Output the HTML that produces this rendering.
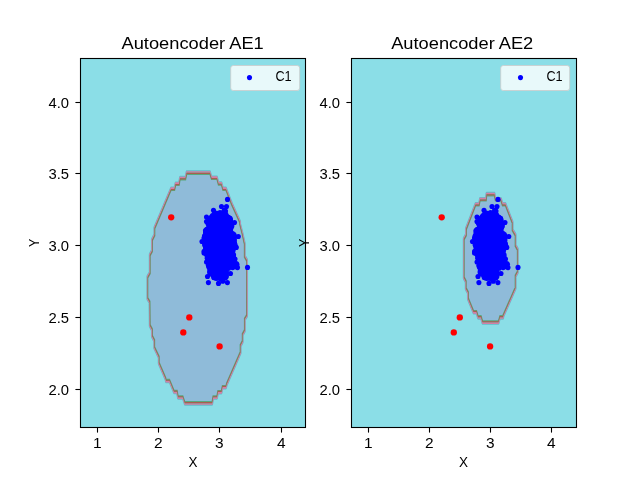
<!DOCTYPE html>
<html><head><meta charset="utf-8"><title>Autoencoder AE1 / AE2</title>
<style>
html,body{margin:0;padding:0;background:#fff;}
body{width:640px;height:480px;overflow:hidden;font-family:"Liberation Sans",sans-serif;}
svg{display:block;will-change:transform;font-family:"Liberation Sans",sans-serif;}
</style></head><body>
<svg width="640" height="480" viewBox="0 0 640 480">
<rect width="640" height="480" fill="#fff"/>
<rect x="80.5" y="58.5" width="225" height="369" fill="#8bdee7"/><g transform="scale(1,2.35)">
<clipPath id="c1"><path d="M186.60,73.532 L210.00,73.532 L211.50,75.745 L217.00,75.745 L218.50,78.170 L221.50,78.170 L223.00,80.426 L226.00,80.426 L231.80,86.809 L240.00,94.468 L240.00,95.319 L242.50,99.574 L244.70,103.830 L244.70,109.149 L247.00,110.851 L247.00,134.255 L244.80,135.745 L244.80,140.638 L242.60,142.340 L242.60,145.319 L240.50,147.021 L240.50,150.000 L226.80,163.404 L226.00,164.681 L222.50,164.681 L221.50,166.809 L218.00,166.809 L217.00,169.064 L213.20,169.064 L212.20,171.574 L184.80,171.574 L182.80,169.064 L178.00,169.064 L177.00,166.723 L174.00,166.723 L173.50,166.170 L169.50,162.043 L166.00,162.043 L165.50,161.064 L158.80,154.468 L158.80,151.915 L154.30,147.872 L154.30,144.894 L152.00,142.979 L152.00,140.213 L149.80,138.511 L149.60,128.511 L147.50,127.021 L147.50,117.872 L149.80,116.170 L149.80,108.511 L152.00,106.809 L152.00,102.128 L154.50,100.000 L154.50,97.021 L161.30,90.213 L171.00,80.426 L174.50,80.426 L175.50,78.298 L179.00,78.298 L180.00,75.872 L185.50,75.872Z"/></clipPath>
<path d="M186.60,73.532 L210.00,73.532 L211.50,75.745 L217.00,75.745 L218.50,78.170 L221.50,78.170 L223.00,80.426 L226.00,80.426 L231.80,86.809 L240.00,94.468 L240.00,95.319 L242.50,99.574 L244.70,103.830 L244.70,109.149 L247.00,110.851 L247.00,134.255 L244.80,135.745 L244.80,140.638 L242.60,142.340 L242.60,145.319 L240.50,147.021 L240.50,150.000 L226.80,163.404 L226.00,164.681 L222.50,164.681 L221.50,166.809 L218.00,166.809 L217.00,169.064 L213.20,169.064 L212.20,171.574 L184.80,171.574 L182.80,169.064 L178.00,169.064 L177.00,166.723 L174.00,166.723 L173.50,166.170 L169.50,162.043 L166.00,162.043 L165.50,161.064 L158.80,154.468 L158.80,151.915 L154.30,147.872 L154.30,144.894 L152.00,142.979 L152.00,140.213 L149.80,138.511 L149.60,128.511 L147.50,127.021 L147.50,117.872 L149.80,116.170 L149.80,108.511 L152.00,106.809 L152.00,102.128 L154.50,100.000 L154.50,97.021 L161.30,90.213 L171.00,80.426 L174.50,80.426 L175.50,78.298 L179.00,78.298 L180.00,75.872 L185.50,75.872Z" fill="none" stroke="#62bcc8" stroke-width="2.1" stroke-linejoin="round"/>
<path d="M186.60,73.532 L210.00,73.532 L211.50,75.745 L217.00,75.745 L218.50,78.170 L221.50,78.170 L223.00,80.426 L226.00,80.426 L231.80,86.809 L240.00,94.468 L240.00,95.319 L242.50,99.574 L244.70,103.830 L244.70,109.149 L247.00,110.851 L247.00,134.255 L244.80,135.745 L244.80,140.638 L242.60,142.340 L242.60,145.319 L240.50,147.021 L240.50,150.000 L226.80,163.404 L226.00,164.681 L222.50,164.681 L221.50,166.809 L218.00,166.809 L217.00,169.064 L213.20,169.064 L212.20,171.574 L184.80,171.574 L182.80,169.064 L178.00,169.064 L177.00,166.723 L174.00,166.723 L173.50,166.170 L169.50,162.043 L166.00,162.043 L165.50,161.064 L158.80,154.468 L158.80,151.915 L154.30,147.872 L154.30,144.894 L152.00,142.979 L152.00,140.213 L149.80,138.511 L149.60,128.511 L147.50,127.021 L147.50,117.872 L149.80,116.170 L149.80,108.511 L152.00,106.809 L152.00,102.128 L154.50,100.000 L154.50,97.021 L161.30,90.213 L171.00,80.426 L174.50,80.426 L175.50,78.298 L179.00,78.298 L180.00,75.872 L185.50,75.872Z" fill="none" stroke="#d47fa6" stroke-width="1.4" stroke-linejoin="round"/>
<path d="M186.60,73.532 L210.00,73.532 L211.50,75.745 L217.00,75.745 L218.50,78.170 L221.50,78.170 L223.00,80.426 L226.00,80.426 L231.80,86.809 L240.00,94.468 L240.00,95.319 L242.50,99.574 L244.70,103.830 L244.70,109.149 L247.00,110.851 L247.00,134.255 L244.80,135.745 L244.80,140.638 L242.60,142.340 L242.60,145.319 L240.50,147.021 L240.50,150.000 L226.80,163.404 L226.00,164.681 L222.50,164.681 L221.50,166.809 L218.00,166.809 L217.00,169.064 L213.20,169.064 L212.20,171.574 L184.80,171.574 L182.80,169.064 L178.00,169.064 L177.00,166.723 L174.00,166.723 L173.50,166.170 L169.50,162.043 L166.00,162.043 L165.50,161.064 L158.80,154.468 L158.80,151.915 L154.30,147.872 L154.30,144.894 L152.00,142.979 L152.00,140.213 L149.80,138.511 L149.60,128.511 L147.50,127.021 L147.50,117.872 L149.80,116.170 L149.80,108.511 L152.00,106.809 L152.00,102.128 L154.50,100.000 L154.50,97.021 L161.30,90.213 L171.00,80.426 L174.50,80.426 L175.50,78.298 L179.00,78.298 L180.00,75.872 L185.50,75.872Z" fill="#8fbbd9"/>
<g clip-path="url(#c1)"><path d="M186.60,73.532 L210.00,73.532 L211.50,75.745 L217.00,75.745 L218.50,78.170 L221.50,78.170 L223.00,80.426 L226.00,80.426 L231.80,86.809 L240.00,94.468 L240.00,95.319 L242.50,99.574 L244.70,103.830 L244.70,109.149 L247.00,110.851 L247.00,134.255 L244.80,135.745 L244.80,140.638 L242.60,142.340 L242.60,145.319 L240.50,147.021 L240.50,150.000 L226.80,163.404 L226.00,164.681 L222.50,164.681 L221.50,166.809 L218.00,166.809 L217.00,169.064 L213.20,169.064 L212.20,171.574 L184.80,171.574 L182.80,169.064 L178.00,169.064 L177.00,166.723 L174.00,166.723 L173.50,166.170 L169.50,162.043 L166.00,162.043 L165.50,161.064 L158.80,154.468 L158.80,151.915 L154.30,147.872 L154.30,144.894 L152.00,142.979 L152.00,140.213 L149.80,138.511 L149.60,128.511 L147.50,127.021 L147.50,117.872 L149.80,116.170 L149.80,108.511 L152.00,106.809 L152.00,102.128 L154.50,100.000 L154.50,97.021 L161.30,90.213 L171.00,80.426 L174.50,80.426 L175.50,78.298 L179.00,78.298 L180.00,75.872 L185.50,75.872Z" fill="none" stroke="#58a87c" stroke-width="1.8"/>
<path d="M186.60,73.532 L210.00,73.532 L211.50,75.745 L217.00,75.745 L218.50,78.170 L221.50,78.170 L223.00,80.426 L226.00,80.426 L231.80,86.809 L240.00,94.468 L240.00,95.319 L242.50,99.574 L244.70,103.830 L244.70,109.149 L247.00,110.851 L247.00,134.255 L244.80,135.745 L244.80,140.638 L242.60,142.340 L242.60,145.319 L240.50,147.021 L240.50,150.000 L226.80,163.404 L226.00,164.681 L222.50,164.681 L221.50,166.809 L218.00,166.809 L217.00,169.064 L213.20,169.064 L212.20,171.574 L184.80,171.574 L182.80,169.064 L178.00,169.064 L177.00,166.723 L174.00,166.723 L173.50,166.170 L169.50,162.043 L166.00,162.043 L165.50,161.064 L158.80,154.468 L158.80,151.915 L154.30,147.872 L154.30,144.894 L152.00,142.979 L152.00,140.213 L149.80,138.511 L149.60,128.511 L147.50,127.021 L147.50,117.872 L149.80,116.170 L149.80,108.511 L152.00,106.809 L152.00,102.128 L154.50,100.000 L154.50,97.021 L161.30,90.213 L171.00,80.426 L174.50,80.426 L175.50,78.298 L179.00,78.298 L180.00,75.872 L185.50,75.872Z" fill="none" stroke="#a85f50" stroke-width="1.0"/></g>
</g><g fill="#ff0000"><circle cx="171.2" cy="217.3" r="3.15"/><circle cx="189.3" cy="317.4" r="3.15"/><circle cx="183.3" cy="332.4" r="3.15"/><circle cx="219.6" cy="346.4" r="3.15"/></g><g fill="#0000ff"><circle cx="208.0" cy="232.0" r="5"/><circle cx="208.0" cy="236.0" r="5"/><circle cx="208.0" cy="240.0" r="5"/><circle cx="208.0" cy="244.0" r="5"/><circle cx="208.0" cy="248.0" r="5"/><circle cx="208.0" cy="252.0" r="5"/><circle cx="212.0" cy="220.0" r="5"/><circle cx="212.0" cy="224.0" r="5"/><circle cx="212.0" cy="228.0" r="5"/><circle cx="212.0" cy="232.0" r="5"/><circle cx="212.0" cy="236.0" r="5"/><circle cx="212.0" cy="240.0" r="5"/><circle cx="212.0" cy="244.0" r="5"/><circle cx="212.0" cy="248.0" r="5"/><circle cx="212.0" cy="252.0" r="5"/><circle cx="212.0" cy="256.0" r="5"/><circle cx="212.0" cy="260.0" r="5"/><circle cx="212.0" cy="264.0" r="5"/><circle cx="212.0" cy="268.0" r="5"/><circle cx="212.0" cy="272.0" r="5"/><circle cx="216.0" cy="216.0" r="5"/><circle cx="216.0" cy="220.0" r="5"/><circle cx="216.0" cy="224.0" r="5"/><circle cx="216.0" cy="228.0" r="5"/><circle cx="216.0" cy="232.0" r="5"/><circle cx="216.0" cy="236.0" r="5"/><circle cx="216.0" cy="240.0" r="5"/><circle cx="216.0" cy="244.0" r="5"/><circle cx="216.0" cy="248.0" r="5"/><circle cx="216.0" cy="252.0" r="5"/><circle cx="216.0" cy="256.0" r="5"/><circle cx="216.0" cy="260.0" r="5"/><circle cx="216.0" cy="264.0" r="5"/><circle cx="216.0" cy="268.0" r="5"/><circle cx="216.0" cy="272.0" r="5"/><circle cx="216.0" cy="276.0" r="5"/><circle cx="220.0" cy="216.0" r="5"/><circle cx="220.0" cy="220.0" r="5"/><circle cx="220.0" cy="224.0" r="5"/><circle cx="220.0" cy="228.0" r="5"/><circle cx="220.0" cy="232.0" r="5"/><circle cx="220.0" cy="236.0" r="5"/><circle cx="220.0" cy="240.0" r="5"/><circle cx="220.0" cy="244.0" r="5"/><circle cx="220.0" cy="248.0" r="5"/><circle cx="220.0" cy="252.0" r="5"/><circle cx="220.0" cy="256.0" r="5"/><circle cx="220.0" cy="260.0" r="5"/><circle cx="220.0" cy="264.0" r="5"/><circle cx="220.0" cy="268.0" r="5"/><circle cx="220.0" cy="272.0" r="5"/><circle cx="220.0" cy="276.0" r="5"/><circle cx="224.0" cy="216.0" r="5"/><circle cx="224.0" cy="220.0" r="5"/><circle cx="224.0" cy="224.0" r="5"/><circle cx="224.0" cy="228.0" r="5"/><circle cx="224.0" cy="232.0" r="5"/><circle cx="224.0" cy="236.0" r="5"/><circle cx="224.0" cy="240.0" r="5"/><circle cx="224.0" cy="244.0" r="5"/><circle cx="224.0" cy="248.0" r="5"/><circle cx="224.0" cy="252.0" r="5"/><circle cx="224.0" cy="256.0" r="5"/><circle cx="224.0" cy="260.0" r="5"/><circle cx="224.0" cy="264.0" r="5"/><circle cx="224.0" cy="268.0" r="5"/><circle cx="224.0" cy="272.0" r="5"/><circle cx="224.0" cy="276.0" r="5"/><circle cx="228.0" cy="220.0" r="5"/><circle cx="228.0" cy="224.0" r="5"/><circle cx="228.0" cy="228.0" r="5"/><circle cx="228.0" cy="232.0" r="5"/><circle cx="228.0" cy="236.0" r="5"/><circle cx="228.0" cy="240.0" r="5"/><circle cx="228.0" cy="244.0" r="5"/><circle cx="228.0" cy="248.0" r="5"/><circle cx="228.0" cy="252.0" r="5"/><circle cx="228.0" cy="256.0" r="5"/><circle cx="228.0" cy="260.0" r="5"/><circle cx="228.0" cy="264.0" r="5"/><circle cx="232.0" cy="236.0" r="5"/><circle cx="232.0" cy="240.0" r="5"/><circle cx="232.0" cy="244.0" r="5"/><circle cx="232.0" cy="264.0" r="5"/><circle cx="208.3" cy="255.5" r="2.55"/><circle cx="231.4" cy="239.1" r="2.55"/><circle cx="230.8" cy="241.5" r="2.55"/><circle cx="208.3" cy="233.7" r="2.55"/><circle cx="229.4" cy="232.3" r="2.55"/><circle cx="218.6" cy="213.8" r="2.55"/><circle cx="224.7" cy="277.4" r="2.55"/><circle cx="208.1" cy="236.3" r="2.55"/><circle cx="211.0" cy="267.8" r="2.55"/><circle cx="233.3" cy="249.4" r="2.55"/><circle cx="214.7" cy="212.8" r="2.55"/><circle cx="223.4" cy="216.9" r="2.55"/><circle cx="230.0" cy="229.9" r="2.55"/><circle cx="209.9" cy="258.0" r="2.55"/><circle cx="232.6" cy="244.8" r="2.55"/><circle cx="208.4" cy="255.5" r="2.55"/><circle cx="208.9" cy="225.8" r="2.55"/><circle cx="207.2" cy="256.2" r="2.55"/><circle cx="224.4" cy="217.7" r="2.55"/><circle cx="215.9" cy="213.7" r="2.55"/><circle cx="225.2" cy="213.9" r="2.55"/><circle cx="210.8" cy="260.9" r="2.55"/><circle cx="209.9" cy="224.8" r="2.55"/><circle cx="227.8" cy="229.3" r="2.55"/><circle cx="210.4" cy="260.3" r="2.55"/><circle cx="233.4" cy="237.7" r="2.55"/><circle cx="213.9" cy="274.2" r="2.55"/><circle cx="213.9" cy="218.7" r="2.55"/><circle cx="233.9" cy="258.7" r="2.55"/><circle cx="228.5" cy="230.8" r="2.55"/><circle cx="229.9" cy="229.1" r="2.55"/><circle cx="221.3" cy="278.5" r="2.55"/><circle cx="233.6" cy="254.8" r="2.55"/><circle cx="209.2" cy="264.5" r="2.55"/><circle cx="234.7" cy="243.7" r="2.55"/><circle cx="231.9" cy="259.2" r="2.55"/><circle cx="204.9" cy="241.3" r="2.55"/><circle cx="231.1" cy="242.7" r="2.55"/><circle cx="235.2" cy="245.5" r="2.55"/><circle cx="229.6" cy="264.8" r="2.55"/><circle cx="230.8" cy="231.9" r="2.55"/><circle cx="219.3" cy="215.4" r="2.55"/><circle cx="231.9" cy="234.5" r="2.55"/><circle cx="207.7" cy="231.0" r="2.55"/><circle cx="204.5" cy="236.0" r="2.55"/><circle cx="231.3" cy="246.2" r="2.55"/><circle cx="226.1" cy="267.5" r="2.55"/><circle cx="224.5" cy="277.0" r="2.55"/><circle cx="228.6" cy="268.2" r="2.55"/><circle cx="234.5" cy="243.4" r="2.55"/><circle cx="207.1" cy="234.1" r="2.55"/><circle cx="207.2" cy="258.2" r="2.55"/><circle cx="228.8" cy="252.7" r="2.55"/><circle cx="209.6" cy="257.7" r="2.55"/><circle cx="207.2" cy="234.0" r="2.55"/><circle cx="228.8" cy="230.7" r="2.55"/><circle cx="232.8" cy="251.7" r="2.55"/><circle cx="215.6" cy="275.5" r="2.55"/><circle cx="229.9" cy="229.9" r="2.55"/><circle cx="214.7" cy="215.8" r="2.55"/><circle cx="234.8" cy="266.8" r="2.55"/><circle cx="224.8" cy="272.7" r="2.55"/><circle cx="208.7" cy="266.7" r="2.55"/><circle cx="209.5" cy="254.6" r="2.55"/><circle cx="208.1" cy="233.8" r="2.55"/><circle cx="231.9" cy="259.1" r="2.55"/><circle cx="205.4" cy="253.6" r="2.55"/><circle cx="210.1" cy="262.3" r="2.55"/><circle cx="208.4" cy="265.2" r="2.55"/><circle cx="230.9" cy="260.0" r="2.55"/><circle cx="212.8" cy="219.2" r="2.55"/><circle cx="211.7" cy="216.7" r="2.55"/><circle cx="207.9" cy="223.6" r="2.55"/><circle cx="231.0" cy="240.3" r="2.55"/><circle cx="226.2" cy="269.3" r="2.55"/><circle cx="206.7" cy="229.4" r="2.55"/><circle cx="229.1" cy="252.5" r="2.55"/><circle cx="217.1" cy="277.7" r="2.55"/><circle cx="208.4" cy="255.0" r="2.55"/><circle cx="210.4" cy="260.5" r="2.55"/><circle cx="204.5" cy="238.2" r="2.55"/><circle cx="209.8" cy="227.0" r="2.55"/><circle cx="209.3" cy="261.8" r="2.55"/><circle cx="230.5" cy="236.2" r="2.55"/><circle cx="206.6" cy="237.0" r="2.55"/><circle cx="227.5" cy="226.7" r="2.55"/><circle cx="210.2" cy="263.0" r="2.55"/><circle cx="209.5" cy="226.3" r="2.55"/><circle cx="236.4" cy="263.6" r="2.55"/><circle cx="209.2" cy="257.5" r="2.55"/><circle cx="204.6" cy="244.7" r="2.55"/><circle cx="231.9" cy="226.1" r="2.55"/><circle cx="232.0" cy="248.7" r="2.55"/><circle cx="232.2" cy="236.1" r="2.55"/><circle cx="230.2" cy="219.6" r="2.55"/><circle cx="226.2" cy="266.7" r="2.55"/><circle cx="230.4" cy="265.7" r="2.55"/><circle cx="206.0" cy="245.8" r="2.55"/><circle cx="231.0" cy="253.9" r="2.55"/><circle cx="235.2" cy="266.0" r="2.55"/><circle cx="229.6" cy="254.1" r="2.55"/><circle cx="205.9" cy="236.0" r="2.55"/><circle cx="213.8" cy="277.4" r="2.55"/><circle cx="206.4" cy="234.6" r="2.55"/><circle cx="228.8" cy="265.4" r="2.55"/><circle cx="213.0" cy="218.2" r="2.55"/><circle cx="230.4" cy="256.0" r="2.55"/><circle cx="229.1" cy="250.6" r="2.55"/><circle cx="231.1" cy="227.8" r="2.55"/><circle cx="227.5" cy="225.4" r="2.55"/><circle cx="212.0" cy="220.2" r="2.55"/><circle cx="233.5" cy="256.7" r="2.55"/><circle cx="221.3" cy="279.1" r="2.55"/><circle cx="231.1" cy="266.6" r="2.55"/><circle cx="233.2" cy="236.4" r="2.55"/><circle cx="228.9" cy="221.3" r="2.55"/><circle cx="203.8" cy="241.8" r="2.55"/><circle cx="230.4" cy="221.0" r="2.55"/><circle cx="224.3" cy="210.4" r="2.55"/><circle cx="230.4" cy="248.2" r="2.55"/><circle cx="233.7" cy="238.3" r="2.55"/><circle cx="211.7" cy="272.3" r="2.55"/><circle cx="217.5" cy="277.8" r="2.55"/><circle cx="224.1" cy="210.8" r="2.55"/><circle cx="225.1" cy="276.4" r="2.55"/><circle cx="230.9" cy="235.6" r="2.55"/><circle cx="205.4" cy="246.5" r="2.55"/><circle cx="205.3" cy="234.8" r="2.55"/><circle cx="233.5" cy="241.9" r="2.55"/><circle cx="209.0" cy="226.9" r="2.55"/><circle cx="205.9" cy="232.3" r="2.55"/><circle cx="213.7" cy="216.1" r="2.55"/><circle cx="231.8" cy="252.0" r="2.55"/><circle cx="210.2" cy="221.1" r="2.55"/><circle cx="204.1" cy="251.3" r="2.55"/><circle cx="229.1" cy="252.2" r="2.55"/><circle cx="231.4" cy="238.4" r="2.55"/><circle cx="209.0" cy="262.9" r="2.55"/><circle cx="210.0" cy="266.4" r="2.55"/><circle cx="217.1" cy="213.2" r="2.55"/><circle cx="224.2" cy="274.4" r="2.55"/><circle cx="227.5" cy="199.4" r="2.55"/><circle cx="221.5" cy="206.5" r="2.55"/><circle cx="226.5" cy="206.5" r="2.55"/><circle cx="213.5" cy="210.3" r="2.55"/><circle cx="225.5" cy="211.0" r="2.55"/><circle cx="220.0" cy="212.5" r="2.55"/><circle cx="206.5" cy="217.0" r="2.55"/><circle cx="206.5" cy="221.5" r="2.55"/><circle cx="212.5" cy="215.5" r="2.55"/><circle cx="228.0" cy="217.0" r="2.55"/><circle cx="230.0" cy="218.3" r="2.55"/><circle cx="234.5" cy="222.5" r="2.55"/><circle cx="238.3" cy="236.5" r="2.55"/><circle cx="205.5" cy="230.5" r="2.55"/><circle cx="204.0" cy="238.0" r="2.55"/><circle cx="202.0" cy="241.5" r="2.55"/><circle cx="236.3" cy="247.4" r="2.55"/><circle cx="204.0" cy="253.0" r="2.55"/><circle cx="235.0" cy="259.0" r="2.55"/><circle cx="237.0" cy="264.5" r="2.55"/><circle cx="237.5" cy="267.6" r="2.55"/><circle cx="232.6" cy="267.6" r="2.55"/><circle cx="230.5" cy="273.5" r="2.55"/><circle cx="206.5" cy="262.0" r="2.55"/><circle cx="207.5" cy="276.5" r="2.55"/><circle cx="208.4" cy="282.6" r="2.55"/><circle cx="218.5" cy="283.4" r="2.55"/><circle cx="227.4" cy="282.6" r="2.55"/><circle cx="222.8" cy="281.3" r="2.55"/><circle cx="247.5" cy="267.4" r="2.55"/></g><g stroke="#000" stroke-width="1.1"><line x1="97.5" y1="427.5" x2="97.5" y2="432.6"/><line x1="158.5" y1="427.5" x2="158.5" y2="432.6"/><line x1="219.5" y1="427.5" x2="219.5" y2="432.6"/><line x1="281.5" y1="427.5" x2="281.5" y2="432.6"/><line x1="75.4" y1="102.5" x2="80.5" y2="102.5"/><line x1="75.4" y1="173.5" x2="80.5" y2="173.5"/><line x1="75.4" y1="245.5" x2="80.5" y2="245.5"/><line x1="75.4" y1="317.5" x2="80.5" y2="317.5"/><line x1="75.4" y1="389.5" x2="80.5" y2="389.5"/></g><rect x="80.5" y="58.5" width="225" height="369" fill="none" stroke="#000" stroke-width="1.1"/><g font-size="14.6" fill="#000"><text x="97.2" y="448" text-anchor="middle" textLength="8.6" lengthAdjust="spacingAndGlyphs">1</text><text x="158.2" y="448" text-anchor="middle" textLength="8.6" lengthAdjust="spacingAndGlyphs">2</text><text x="219.2" y="448" text-anchor="middle" textLength="8.6" lengthAdjust="spacingAndGlyphs">3</text><text x="281.2" y="448" text-anchor="middle" textLength="8.6" lengthAdjust="spacingAndGlyphs">4</text><text x="69.1" y="107.8" text-anchor="end" textLength="20.6" lengthAdjust="spacingAndGlyphs">4.0</text><text x="69.1" y="178.8" text-anchor="end" textLength="20.6" lengthAdjust="spacingAndGlyphs">3.5</text><text x="69.1" y="250.8" text-anchor="end" textLength="20.6" lengthAdjust="spacingAndGlyphs">3.0</text><text x="69.1" y="322.8" text-anchor="end" textLength="20.6" lengthAdjust="spacingAndGlyphs">2.5</text><text x="69.1" y="394.8" text-anchor="end" textLength="20.6" lengthAdjust="spacingAndGlyphs">2.0</text></g><text x="121.5" y="48.6" font-size="17.1" textLength="142.3" lengthAdjust="spacingAndGlyphs">Autoencoder AE1</text><text x="193" y="467.1" font-size="14.6" text-anchor="middle" textLength="9" lengthAdjust="spacingAndGlyphs">X</text><rect x="230.7" y="65.5" width="69" height="25" rx="2.6" fill="#ffffff" fill-opacity="0.8" stroke="#cccccc" stroke-opacity="0.8" stroke-width="1"/><circle cx="249.5" cy="77.6" r="2.55" fill="#0000ff"/><text x="275.4" y="81" font-size="14.6" textLength="16.2" lengthAdjust="spacingAndGlyphs">C1</text><rect x="351.5" y="58.5" width="225" height="369" fill="#8bdee7"/><g transform="scale(1,2.35)">
<clipPath id="c2"><path d="M486.50,82.681 L494.50,82.681 L495.50,84.894 L501.00,84.894 L502.50,87.021 L505.50,87.021 L512.50,94.681 L512.50,97.872 L515.50,100.000 L515.50,104.468 L517.70,106.170 L517.70,115.745 L515.50,117.447 L515.50,122.553 L503.20,134.468 L503.20,134.979 L500.00,134.979 L498.50,137.149 L482.50,137.149 L481.00,134.979 L478.00,134.979 L476.50,132.766 L473.50,132.766 L468.00,127.021 L468.00,124.468 L465.80,122.766 L465.80,119.787 L463.80,118.085 L463.80,101.702 L466.00,100.000 L466.00,97.447 L469.50,93.617 L475.50,87.021 L479.00,87.021 L480.00,84.894 L486.00,84.894Z"/></clipPath>
<path d="M486.50,82.681 L494.50,82.681 L495.50,84.894 L501.00,84.894 L502.50,87.021 L505.50,87.021 L512.50,94.681 L512.50,97.872 L515.50,100.000 L515.50,104.468 L517.70,106.170 L517.70,115.745 L515.50,117.447 L515.50,122.553 L503.20,134.468 L503.20,134.979 L500.00,134.979 L498.50,137.149 L482.50,137.149 L481.00,134.979 L478.00,134.979 L476.50,132.766 L473.50,132.766 L468.00,127.021 L468.00,124.468 L465.80,122.766 L465.80,119.787 L463.80,118.085 L463.80,101.702 L466.00,100.000 L466.00,97.447 L469.50,93.617 L475.50,87.021 L479.00,87.021 L480.00,84.894 L486.00,84.894Z" fill="none" stroke="#62bcc8" stroke-width="2.1" stroke-linejoin="round"/>
<path d="M486.50,82.681 L494.50,82.681 L495.50,84.894 L501.00,84.894 L502.50,87.021 L505.50,87.021 L512.50,94.681 L512.50,97.872 L515.50,100.000 L515.50,104.468 L517.70,106.170 L517.70,115.745 L515.50,117.447 L515.50,122.553 L503.20,134.468 L503.20,134.979 L500.00,134.979 L498.50,137.149 L482.50,137.149 L481.00,134.979 L478.00,134.979 L476.50,132.766 L473.50,132.766 L468.00,127.021 L468.00,124.468 L465.80,122.766 L465.80,119.787 L463.80,118.085 L463.80,101.702 L466.00,100.000 L466.00,97.447 L469.50,93.617 L475.50,87.021 L479.00,87.021 L480.00,84.894 L486.00,84.894Z" fill="none" stroke="#d47fa6" stroke-width="1.4" stroke-linejoin="round"/>
<path d="M486.50,82.681 L494.50,82.681 L495.50,84.894 L501.00,84.894 L502.50,87.021 L505.50,87.021 L512.50,94.681 L512.50,97.872 L515.50,100.000 L515.50,104.468 L517.70,106.170 L517.70,115.745 L515.50,117.447 L515.50,122.553 L503.20,134.468 L503.20,134.979 L500.00,134.979 L498.50,137.149 L482.50,137.149 L481.00,134.979 L478.00,134.979 L476.50,132.766 L473.50,132.766 L468.00,127.021 L468.00,124.468 L465.80,122.766 L465.80,119.787 L463.80,118.085 L463.80,101.702 L466.00,100.000 L466.00,97.447 L469.50,93.617 L475.50,87.021 L479.00,87.021 L480.00,84.894 L486.00,84.894Z" fill="#8fbbd9"/>
<g clip-path="url(#c2)"><path d="M486.50,82.681 L494.50,82.681 L495.50,84.894 L501.00,84.894 L502.50,87.021 L505.50,87.021 L512.50,94.681 L512.50,97.872 L515.50,100.000 L515.50,104.468 L517.70,106.170 L517.70,115.745 L515.50,117.447 L515.50,122.553 L503.20,134.468 L503.20,134.979 L500.00,134.979 L498.50,137.149 L482.50,137.149 L481.00,134.979 L478.00,134.979 L476.50,132.766 L473.50,132.766 L468.00,127.021 L468.00,124.468 L465.80,122.766 L465.80,119.787 L463.80,118.085 L463.80,101.702 L466.00,100.000 L466.00,97.447 L469.50,93.617 L475.50,87.021 L479.00,87.021 L480.00,84.894 L486.00,84.894Z" fill="none" stroke="#58a87c" stroke-width="1.8"/>
<path d="M486.50,82.681 L494.50,82.681 L495.50,84.894 L501.00,84.894 L502.50,87.021 L505.50,87.021 L512.50,94.681 L512.50,97.872 L515.50,100.000 L515.50,104.468 L517.70,106.170 L517.70,115.745 L515.50,117.447 L515.50,122.553 L503.20,134.468 L503.20,134.979 L500.00,134.979 L498.50,137.149 L482.50,137.149 L481.00,134.979 L478.00,134.979 L476.50,132.766 L473.50,132.766 L468.00,127.021 L468.00,124.468 L465.80,122.766 L465.80,119.787 L463.80,118.085 L463.80,101.702 L466.00,100.000 L466.00,97.447 L469.50,93.617 L475.50,87.021 L479.00,87.021 L480.00,84.894 L486.00,84.894Z" fill="none" stroke="#a85f50" stroke-width="1.0"/></g>
</g><g fill="#ff0000"><circle cx="441.7" cy="217.3" r="3.15"/><circle cx="459.8" cy="317.4" r="3.15"/><circle cx="453.8" cy="332.4" r="3.15"/><circle cx="490.1" cy="346.4" r="3.15"/></g><g fill="#0000ff"><circle cx="478.5" cy="232.0" r="5"/><circle cx="478.5" cy="236.0" r="5"/><circle cx="478.5" cy="240.0" r="5"/><circle cx="478.5" cy="244.0" r="5"/><circle cx="478.5" cy="248.0" r="5"/><circle cx="478.5" cy="252.0" r="5"/><circle cx="482.5" cy="220.0" r="5"/><circle cx="482.5" cy="224.0" r="5"/><circle cx="482.5" cy="228.0" r="5"/><circle cx="482.5" cy="232.0" r="5"/><circle cx="482.5" cy="236.0" r="5"/><circle cx="482.5" cy="240.0" r="5"/><circle cx="482.5" cy="244.0" r="5"/><circle cx="482.5" cy="248.0" r="5"/><circle cx="482.5" cy="252.0" r="5"/><circle cx="482.5" cy="256.0" r="5"/><circle cx="482.5" cy="260.0" r="5"/><circle cx="482.5" cy="264.0" r="5"/><circle cx="482.5" cy="268.0" r="5"/><circle cx="482.5" cy="272.0" r="5"/><circle cx="486.5" cy="216.0" r="5"/><circle cx="486.5" cy="220.0" r="5"/><circle cx="486.5" cy="224.0" r="5"/><circle cx="486.5" cy="228.0" r="5"/><circle cx="486.5" cy="232.0" r="5"/><circle cx="486.5" cy="236.0" r="5"/><circle cx="486.5" cy="240.0" r="5"/><circle cx="486.5" cy="244.0" r="5"/><circle cx="486.5" cy="248.0" r="5"/><circle cx="486.5" cy="252.0" r="5"/><circle cx="486.5" cy="256.0" r="5"/><circle cx="486.5" cy="260.0" r="5"/><circle cx="486.5" cy="264.0" r="5"/><circle cx="486.5" cy="268.0" r="5"/><circle cx="486.5" cy="272.0" r="5"/><circle cx="486.5" cy="276.0" r="5"/><circle cx="490.5" cy="216.0" r="5"/><circle cx="490.5" cy="220.0" r="5"/><circle cx="490.5" cy="224.0" r="5"/><circle cx="490.5" cy="228.0" r="5"/><circle cx="490.5" cy="232.0" r="5"/><circle cx="490.5" cy="236.0" r="5"/><circle cx="490.5" cy="240.0" r="5"/><circle cx="490.5" cy="244.0" r="5"/><circle cx="490.5" cy="248.0" r="5"/><circle cx="490.5" cy="252.0" r="5"/><circle cx="490.5" cy="256.0" r="5"/><circle cx="490.5" cy="260.0" r="5"/><circle cx="490.5" cy="264.0" r="5"/><circle cx="490.5" cy="268.0" r="5"/><circle cx="490.5" cy="272.0" r="5"/><circle cx="490.5" cy="276.0" r="5"/><circle cx="494.5" cy="216.0" r="5"/><circle cx="494.5" cy="220.0" r="5"/><circle cx="494.5" cy="224.0" r="5"/><circle cx="494.5" cy="228.0" r="5"/><circle cx="494.5" cy="232.0" r="5"/><circle cx="494.5" cy="236.0" r="5"/><circle cx="494.5" cy="240.0" r="5"/><circle cx="494.5" cy="244.0" r="5"/><circle cx="494.5" cy="248.0" r="5"/><circle cx="494.5" cy="252.0" r="5"/><circle cx="494.5" cy="256.0" r="5"/><circle cx="494.5" cy="260.0" r="5"/><circle cx="494.5" cy="264.0" r="5"/><circle cx="494.5" cy="268.0" r="5"/><circle cx="494.5" cy="272.0" r="5"/><circle cx="494.5" cy="276.0" r="5"/><circle cx="498.5" cy="220.0" r="5"/><circle cx="498.5" cy="224.0" r="5"/><circle cx="498.5" cy="228.0" r="5"/><circle cx="498.5" cy="232.0" r="5"/><circle cx="498.5" cy="236.0" r="5"/><circle cx="498.5" cy="240.0" r="5"/><circle cx="498.5" cy="244.0" r="5"/><circle cx="498.5" cy="248.0" r="5"/><circle cx="498.5" cy="252.0" r="5"/><circle cx="498.5" cy="256.0" r="5"/><circle cx="498.5" cy="260.0" r="5"/><circle cx="498.5" cy="264.0" r="5"/><circle cx="502.5" cy="236.0" r="5"/><circle cx="502.5" cy="240.0" r="5"/><circle cx="502.5" cy="244.0" r="5"/><circle cx="502.5" cy="264.0" r="5"/><circle cx="478.8" cy="255.5" r="2.55"/><circle cx="501.9" cy="239.1" r="2.55"/><circle cx="501.3" cy="241.5" r="2.55"/><circle cx="478.8" cy="233.7" r="2.55"/><circle cx="499.9" cy="232.3" r="2.55"/><circle cx="489.1" cy="213.8" r="2.55"/><circle cx="495.2" cy="277.4" r="2.55"/><circle cx="478.6" cy="236.3" r="2.55"/><circle cx="481.5" cy="267.8" r="2.55"/><circle cx="503.8" cy="249.4" r="2.55"/><circle cx="485.2" cy="212.8" r="2.55"/><circle cx="493.9" cy="216.9" r="2.55"/><circle cx="500.5" cy="229.9" r="2.55"/><circle cx="480.4" cy="258.0" r="2.55"/><circle cx="503.1" cy="244.8" r="2.55"/><circle cx="478.9" cy="255.5" r="2.55"/><circle cx="479.4" cy="225.8" r="2.55"/><circle cx="477.7" cy="256.2" r="2.55"/><circle cx="494.9" cy="217.7" r="2.55"/><circle cx="486.4" cy="213.7" r="2.55"/><circle cx="495.7" cy="213.9" r="2.55"/><circle cx="481.3" cy="260.9" r="2.55"/><circle cx="480.4" cy="224.8" r="2.55"/><circle cx="498.3" cy="229.3" r="2.55"/><circle cx="480.9" cy="260.3" r="2.55"/><circle cx="503.9" cy="237.7" r="2.55"/><circle cx="484.4" cy="274.2" r="2.55"/><circle cx="484.4" cy="218.7" r="2.55"/><circle cx="504.4" cy="258.7" r="2.55"/><circle cx="499.0" cy="230.8" r="2.55"/><circle cx="500.4" cy="229.1" r="2.55"/><circle cx="491.8" cy="278.5" r="2.55"/><circle cx="504.1" cy="254.8" r="2.55"/><circle cx="479.7" cy="264.5" r="2.55"/><circle cx="505.2" cy="243.7" r="2.55"/><circle cx="502.4" cy="259.2" r="2.55"/><circle cx="475.4" cy="241.3" r="2.55"/><circle cx="501.6" cy="242.7" r="2.55"/><circle cx="505.7" cy="245.5" r="2.55"/><circle cx="500.1" cy="264.8" r="2.55"/><circle cx="501.3" cy="231.9" r="2.55"/><circle cx="489.8" cy="215.4" r="2.55"/><circle cx="502.4" cy="234.5" r="2.55"/><circle cx="478.2" cy="231.0" r="2.55"/><circle cx="475.0" cy="236.0" r="2.55"/><circle cx="501.8" cy="246.2" r="2.55"/><circle cx="496.6" cy="267.5" r="2.55"/><circle cx="495.0" cy="277.0" r="2.55"/><circle cx="499.1" cy="268.2" r="2.55"/><circle cx="505.0" cy="243.4" r="2.55"/><circle cx="477.6" cy="234.1" r="2.55"/><circle cx="477.7" cy="258.2" r="2.55"/><circle cx="499.3" cy="252.7" r="2.55"/><circle cx="480.1" cy="257.7" r="2.55"/><circle cx="477.7" cy="234.0" r="2.55"/><circle cx="499.3" cy="230.7" r="2.55"/><circle cx="503.3" cy="251.7" r="2.55"/><circle cx="486.1" cy="275.5" r="2.55"/><circle cx="500.4" cy="229.9" r="2.55"/><circle cx="485.2" cy="215.8" r="2.55"/><circle cx="505.3" cy="266.8" r="2.55"/><circle cx="495.3" cy="272.7" r="2.55"/><circle cx="479.2" cy="266.7" r="2.55"/><circle cx="480.0" cy="254.6" r="2.55"/><circle cx="478.6" cy="233.8" r="2.55"/><circle cx="502.4" cy="259.1" r="2.55"/><circle cx="475.9" cy="253.6" r="2.55"/><circle cx="480.6" cy="262.3" r="2.55"/><circle cx="478.9" cy="265.2" r="2.55"/><circle cx="501.4" cy="260.0" r="2.55"/><circle cx="483.3" cy="219.2" r="2.55"/><circle cx="482.2" cy="216.7" r="2.55"/><circle cx="478.4" cy="223.6" r="2.55"/><circle cx="501.5" cy="240.3" r="2.55"/><circle cx="496.7" cy="269.3" r="2.55"/><circle cx="477.2" cy="229.4" r="2.55"/><circle cx="499.6" cy="252.5" r="2.55"/><circle cx="487.6" cy="277.7" r="2.55"/><circle cx="478.9" cy="255.0" r="2.55"/><circle cx="480.9" cy="260.5" r="2.55"/><circle cx="475.0" cy="238.2" r="2.55"/><circle cx="480.3" cy="227.0" r="2.55"/><circle cx="479.8" cy="261.8" r="2.55"/><circle cx="501.0" cy="236.2" r="2.55"/><circle cx="477.1" cy="237.0" r="2.55"/><circle cx="498.0" cy="226.7" r="2.55"/><circle cx="480.7" cy="263.0" r="2.55"/><circle cx="480.0" cy="226.3" r="2.55"/><circle cx="506.9" cy="263.6" r="2.55"/><circle cx="479.7" cy="257.5" r="2.55"/><circle cx="475.1" cy="244.7" r="2.55"/><circle cx="502.4" cy="226.1" r="2.55"/><circle cx="502.5" cy="248.7" r="2.55"/><circle cx="502.7" cy="236.1" r="2.55"/><circle cx="500.7" cy="219.6" r="2.55"/><circle cx="496.7" cy="266.7" r="2.55"/><circle cx="500.9" cy="265.7" r="2.55"/><circle cx="476.5" cy="245.8" r="2.55"/><circle cx="501.5" cy="253.9" r="2.55"/><circle cx="505.7" cy="266.0" r="2.55"/><circle cx="500.1" cy="254.1" r="2.55"/><circle cx="476.4" cy="236.0" r="2.55"/><circle cx="484.3" cy="277.4" r="2.55"/><circle cx="476.9" cy="234.6" r="2.55"/><circle cx="499.3" cy="265.4" r="2.55"/><circle cx="483.5" cy="218.2" r="2.55"/><circle cx="500.9" cy="256.0" r="2.55"/><circle cx="499.6" cy="250.6" r="2.55"/><circle cx="501.6" cy="227.8" r="2.55"/><circle cx="498.0" cy="225.4" r="2.55"/><circle cx="482.5" cy="220.2" r="2.55"/><circle cx="504.0" cy="256.7" r="2.55"/><circle cx="491.8" cy="279.1" r="2.55"/><circle cx="501.6" cy="266.6" r="2.55"/><circle cx="503.7" cy="236.4" r="2.55"/><circle cx="499.4" cy="221.3" r="2.55"/><circle cx="474.3" cy="241.8" r="2.55"/><circle cx="500.9" cy="221.0" r="2.55"/><circle cx="494.8" cy="210.4" r="2.55"/><circle cx="500.9" cy="248.2" r="2.55"/><circle cx="504.2" cy="238.3" r="2.55"/><circle cx="482.2" cy="272.3" r="2.55"/><circle cx="488.0" cy="277.8" r="2.55"/><circle cx="494.6" cy="210.8" r="2.55"/><circle cx="495.6" cy="276.4" r="2.55"/><circle cx="501.4" cy="235.6" r="2.55"/><circle cx="475.9" cy="246.5" r="2.55"/><circle cx="475.8" cy="234.8" r="2.55"/><circle cx="504.0" cy="241.9" r="2.55"/><circle cx="479.5" cy="226.9" r="2.55"/><circle cx="476.4" cy="232.3" r="2.55"/><circle cx="484.2" cy="216.1" r="2.55"/><circle cx="502.3" cy="252.0" r="2.55"/><circle cx="480.7" cy="221.1" r="2.55"/><circle cx="474.6" cy="251.3" r="2.55"/><circle cx="499.6" cy="252.2" r="2.55"/><circle cx="501.9" cy="238.4" r="2.55"/><circle cx="479.5" cy="262.9" r="2.55"/><circle cx="480.5" cy="266.4" r="2.55"/><circle cx="487.6" cy="213.2" r="2.55"/><circle cx="494.7" cy="274.4" r="2.55"/><circle cx="498.0" cy="199.4" r="2.55"/><circle cx="492.0" cy="206.5" r="2.55"/><circle cx="497.0" cy="206.5" r="2.55"/><circle cx="484.0" cy="210.3" r="2.55"/><circle cx="496.0" cy="211.0" r="2.55"/><circle cx="490.5" cy="212.5" r="2.55"/><circle cx="477.0" cy="217.0" r="2.55"/><circle cx="477.0" cy="221.5" r="2.55"/><circle cx="483.0" cy="215.5" r="2.55"/><circle cx="498.5" cy="217.0" r="2.55"/><circle cx="500.5" cy="218.3" r="2.55"/><circle cx="505.0" cy="222.5" r="2.55"/><circle cx="508.8" cy="236.5" r="2.55"/><circle cx="476.0" cy="230.5" r="2.55"/><circle cx="474.5" cy="238.0" r="2.55"/><circle cx="472.5" cy="241.5" r="2.55"/><circle cx="506.8" cy="247.4" r="2.55"/><circle cx="474.5" cy="253.0" r="2.55"/><circle cx="505.5" cy="259.0" r="2.55"/><circle cx="507.5" cy="264.5" r="2.55"/><circle cx="508.0" cy="267.6" r="2.55"/><circle cx="503.1" cy="267.6" r="2.55"/><circle cx="501.0" cy="273.5" r="2.55"/><circle cx="477.0" cy="262.0" r="2.55"/><circle cx="478.0" cy="276.5" r="2.55"/><circle cx="478.9" cy="282.6" r="2.55"/><circle cx="489.0" cy="283.4" r="2.55"/><circle cx="497.9" cy="282.6" r="2.55"/><circle cx="493.3" cy="281.3" r="2.55"/><circle cx="518.0" cy="267.4" r="2.55"/></g><g stroke="#000" stroke-width="1.1"><line x1="368.5" y1="427.5" x2="368.5" y2="432.6"/><line x1="429.5" y1="427.5" x2="429.5" y2="432.6"/><line x1="490.5" y1="427.5" x2="490.5" y2="432.6"/><line x1="551.5" y1="427.5" x2="551.5" y2="432.6"/><line x1="346.4" y1="102.5" x2="351.5" y2="102.5"/><line x1="346.4" y1="173.5" x2="351.5" y2="173.5"/><line x1="346.4" y1="245.5" x2="351.5" y2="245.5"/><line x1="346.4" y1="317.5" x2="351.5" y2="317.5"/><line x1="346.4" y1="389.5" x2="351.5" y2="389.5"/></g><rect x="351.5" y="58.5" width="225" height="369" fill="none" stroke="#000" stroke-width="1.1"/><g font-size="14.6" fill="#000"><text x="368.2" y="448" text-anchor="middle" textLength="8.6" lengthAdjust="spacingAndGlyphs">1</text><text x="429.2" y="448" text-anchor="middle" textLength="8.6" lengthAdjust="spacingAndGlyphs">2</text><text x="490.2" y="448" text-anchor="middle" textLength="8.6" lengthAdjust="spacingAndGlyphs">3</text><text x="551.2" y="448" text-anchor="middle" textLength="8.6" lengthAdjust="spacingAndGlyphs">4</text><text x="340.1" y="107.8" text-anchor="end" textLength="20.6" lengthAdjust="spacingAndGlyphs">4.0</text><text x="340.1" y="178.8" text-anchor="end" textLength="20.6" lengthAdjust="spacingAndGlyphs">3.5</text><text x="340.1" y="250.8" text-anchor="end" textLength="20.6" lengthAdjust="spacingAndGlyphs">3.0</text><text x="340.1" y="322.8" text-anchor="end" textLength="20.6" lengthAdjust="spacingAndGlyphs">2.5</text><text x="340.1" y="394.8" text-anchor="end" textLength="20.6" lengthAdjust="spacingAndGlyphs">2.0</text></g><text x="391.2" y="48.6" font-size="17.1" textLength="142.09999999999997" lengthAdjust="spacingAndGlyphs">Autoencoder AE2</text><text x="463.5" y="467.1" font-size="14.6" text-anchor="middle" textLength="9" lengthAdjust="spacingAndGlyphs">X</text><rect x="500.7" y="65.5" width="69" height="25" rx="2.6" fill="#ffffff" fill-opacity="0.8" stroke="#cccccc" stroke-opacity="0.8" stroke-width="1"/><circle cx="520.5" cy="77.6" r="2.55" fill="#0000ff"/><text x="546.4" y="81" font-size="14.6" textLength="16.2" lengthAdjust="spacingAndGlyphs">C1</text><text transform="translate(38.9,242.9) rotate(-90)" font-size="14.6" text-anchor="middle" textLength="8.4" lengthAdjust="spacingAndGlyphs">Y</text><text transform="translate(309.0,242.9) rotate(-90)" font-size="14.6" text-anchor="middle" textLength="8.4" lengthAdjust="spacingAndGlyphs">Y</text>
</svg>
</body></html>
